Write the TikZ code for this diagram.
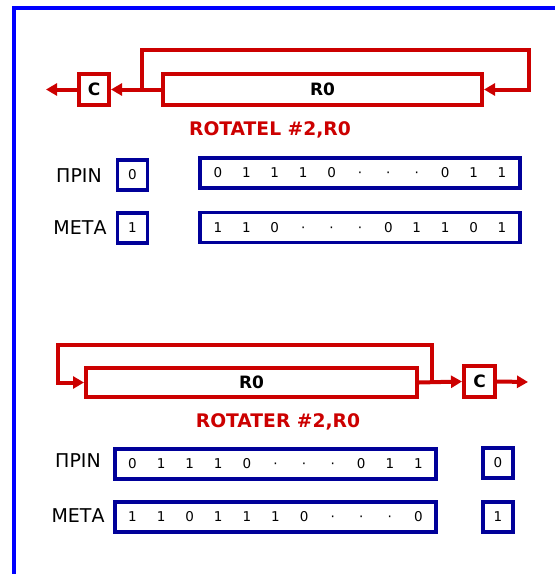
\documentclass[tikz,border=0pt]{standalone}
\usepackage{fontspec}
\setmainfont{DejaVu Sans}
\usetikzlibrary{arrows.meta,positioning}
\definecolor{regred}{HTML}{CC0000}
\definecolor{bitblue}{HTML}{000099}
\definecolor{frameblue}{HTML}{0000FF}
\newcommand{\bitcells}[2][28.4pt]{\foreach \bitval in {#2}{\makebox[#1]{\bitval}}}

\begin{document}
\begin{tikzpicture}[
    x=1pt, y=-1pt,
    regbox/.style={draw=regred, line width=4pt, fill=white, minimum height=31pt, inner sep=0pt, font=\fontsize{17}{20}\selectfont\bfseries},
    bitbox/.style={draw=bitblue, line width=3.5pt, minimum height=30pt, inner sep=0pt, font=\fontsize{13.5}{15}\selectfont},
    rowlabel/.style={font=\fontsize{19}{22}\selectfont},
    optitle/.style={text=regred, font=\fontsize{18.7}{22}\selectfont\bfseries},
    arrow/.style={draw=regred, line width=4pt, -{Triangle[length=11pt,width=12pt]}}
]
    \useasboundingbox (0,0) rectangle (555,574);
    \draw[frameblue, line width=4pt] (14,574) -- (14,8) -- (555,8);

    % ROTATEL
    \node[regbox, minimum width=30pt] (c1) at (94,89.5) {C};
    \node[regbox, minimum width=319pt] (r1) at (322.5,89.5) {R0};
    \coordinate (out1) at (46,89.5);
    \coordinate (tap1) at (142,89.5);
    \coordinate (loop1) at (529,50);
    \draw[arrow] (r1.west) -- (c1.east);
    \draw[arrow] (c1.west) -- (out1);
    \draw[arrow] (tap1) |- (loop1) |- (r1.east);
    \node[optitle] (title1) at (270,130) {ROTATEL \#2,R0};

    \node[rowlabel] (prin1) at (79,176) {ΠΡΙΝ};
    \node[bitbox, minimum width=30pt] (cprin1) at (132.5,175) {0};
    \node[bitbox, minimum width=320pt] (bprin1) at (360,173) {\bitcells{0,1,1,1,0,·,·,·,0,1,1}};
    \node[rowlabel] (meta1) at (80,228) {ΜΕΤΑ};
    \node[bitbox, minimum width=30pt] (cmeta1) at (132.5,228) {1};
    \node[bitbox, minimum width=320pt] (bmeta1) at (360,227.5) {\bitcells{1,1,0,·,·,·,0,1,1,0,1}};

    % ROTATER
    \node[regbox, minimum width=331pt, minimum height=29.5pt] (r2) at (251.5,382.5) {R0};
    \node[regbox, minimum width=31pt] (c2) at (479.5,381.5) {C};
    \coordinate (out2) at (528,382);
    \coordinate (tap2) at (432,382);
    \coordinate (loop2) at (58,345);
    \draw[arrow] (r2.east) -- (c2.west);
    \draw[arrow] (c2.east) -- (out2);
    \draw[arrow] (tap2) |- (loop2) |- (r2.west);
    \node[optitle] (title2) at (278,422) {ROTATER \#2,R0};

    \node[rowlabel] (prin2) at (78,461) {ΠΡΙΝ};
    \node[bitbox, minimum width=321pt] (bprin2) at (275.5,464) {\bitcells[28.6pt]{0,1,1,1,0,·,·,·,0,1,1}};
    \node[bitbox, minimum width=30pt] (cprin2) at (498,463) {0};
    \node[rowlabel] (meta2) at (78,516) {ΜΕΤΑ};
    \node[bitbox, minimum width=321pt] (bmeta2) at (275.5,517) {\bitcells[28.6pt]{1,1,0,1,1,1,0,·,·,·,0}};
    \node[bitbox, minimum width=30pt] (cmeta2) at (498,517) {1};
\end{tikzpicture}
\end{document}
